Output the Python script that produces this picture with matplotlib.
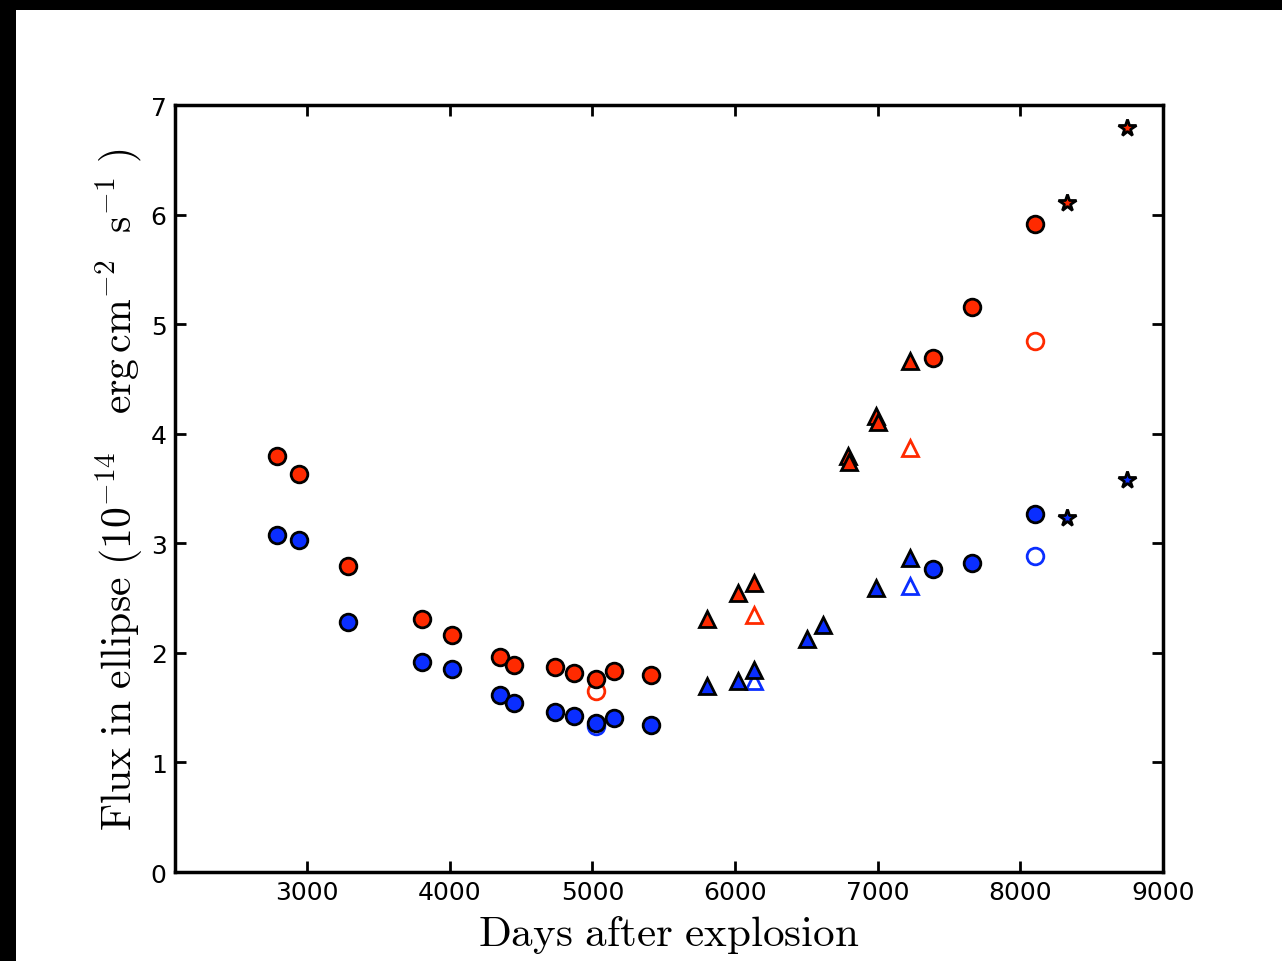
import matplotlib
matplotlib.use('Agg')
import matplotlib.pyplot as plt
from matplotlib.patches import Rectangle

plt.rcParams['mathtext.fontset'] = 'cm'

red = '#ff2a00'
blue = '#0a2eff'

# filled circles
circ_days = [2790, 2944, 3287, 3806, 4016, 4353, 4451, 4739, 4871, 5026, 5152, 5411, 7388, 7661, 8103]
circ_red = [3.80, 3.63, 2.79, 2.31, 2.16, 1.96, 1.89, 1.87, 1.82, 1.76, 1.83, 1.80, 4.69, 5.16, 5.91]
circ_blue = [3.08, 3.03, 2.28, 1.92, 1.85, 1.62, 1.54, 1.46, 1.42, 1.36, 1.41, 1.34, 2.77, 2.82, 3.27]

# open circles
ocirc_days = [5026, 8103]
ocirc_red = [1.65, 4.85]
ocirc_blue = [1.33, 2.88]

# filled triangles
tri_red_days = [5804, 6021, 6133, 6792, 6796, 6985, 7000, 7227]
tri_red = [2.31, 2.55, 2.64, 3.80, 3.74, 4.16, 4.11, 4.66]
tri_blue_days = [5804, 6021, 6133, 6505, 6617, 6990, 7227]
tri_blue = [1.70, 1.74, 1.84, 2.13, 2.25, 2.59, 2.87]

# open triangles
otri_days = [6133, 7227]
otri_red = [2.35, 3.87]
otri_blue = [1.74, 2.61]

# stars
star_days = [8327, 8747]
star_red = [6.11, 6.79]
star_blue = [3.23, 3.58]

fig = plt.figure(figsize=(12.82, 9.62), dpi=100)
fig.patch.set_facecolor('black')
fig.add_artist(Rectangle((16 / 1282, 0), 1, 1 - 11 / 962, transform=fig.transFigure,
                         facecolor='white', edgecolor='none', zorder=-1))
ax = fig.add_axes([0.1365, 0.0925, 0.7707, 0.7973])

ax.plot(ocirc_days, ocirc_red, 'o', ms=12, mfc='white', mec=red, mew=2, ls='none')
ax.plot(ocirc_days, ocirc_blue, 'o', ms=12, mfc='white', mec=blue, mew=2, ls='none')
ax.plot(otri_days, otri_red, '^', ms=12, mfc='white', mec=red, mew=2, ls='none')
ax.plot(otri_days, otri_blue, '^', ms=12, mfc='white', mec=blue, mew=2, ls='none')

ax.plot(circ_days, circ_red, 'o', ms=12, mfc=red, mec='black', mew=2, ls='none')
ax.plot(circ_days, circ_blue, 'o', ms=12, mfc=blue, mec='black', mew=2, ls='none')
ax.plot(tri_red_days, tri_red, '^', ms=12, mfc=red, mec='black', mew=2, ls='none')
ax.plot(tri_blue_days, tri_blue, '^', ms=12, mfc=blue, mec='black', mew=2, ls='none')
ax.plot(star_days, star_red, '*', ms=13, mfc=red, mec='black', mew=2, ls='none')
ax.plot(star_days, star_blue, '*', ms=13, mfc=blue, mec='black', mew=2, ls='none')

ax.set_xlim(2075, 9000)
ax.set_ylim(0, 7)
ax.set_xticks(range(3000, 9001, 1000))
ax.set_yticks(range(0, 8))
ax.tick_params(direction='in', length=8, width=2, labelsize=18, top=True, right=True, pad=6)
for s in ax.spines.values():
    s.set_linewidth(2.5)

ax.set_xlabel(r'$\mathrm{Days\ after\ explosion}$', fontsize=31, labelpad=6)
ax.set_ylabel(r'$\mathrm{Flux\ in\ ellipse\ (10^{-14}\quad erg\,cm^{-2}\ \ s^{-1}\ )}$',
              fontsize=30, labelpad=4)

fig.savefig('out.png', dpi=100)
